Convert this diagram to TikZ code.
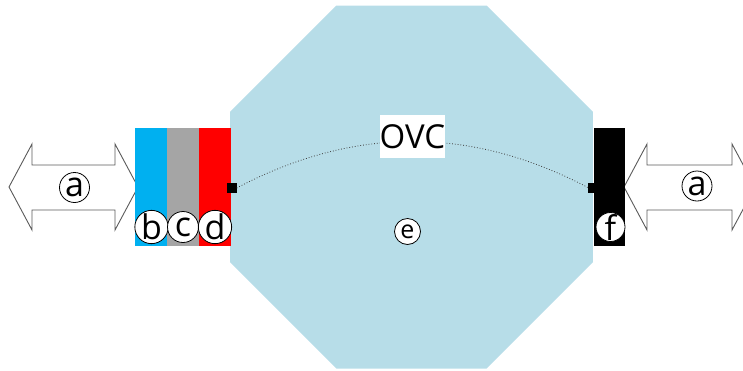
\documentclass[tikz,border=0pt]{standalone}
\usepackage{fontspec}
\setmainfont{Open Sans}
\usetikzlibrary{shapes.geometric}
\definecolor{octblue}{HTML}{B7DDE8}
\definecolor{layblue}{HTML}{00B0F0}
\definecolor{laygray}{HTML}{A5A5A5}
\definecolor{layred}{HTML}{FF0000}
\definecolor{arrline}{HTML}{5A5A5A}
\definecolor{dotline}{HTML}{404040}
\tikzset{
  layer/.style={rectangle, inner sep=0pt, minimum width=32bp, minimum height=118bp},
  tag/.style={circle, draw=black, line width=0.8bp, fill=white, inner sep=0pt, minimum size=30bp, font=\fontsize{34bp}{36bp}\selectfont},
  smalltag/.style={tag, minimum size=26bp, font=\fontsize{25bp}{27bp}\selectfont},
  port/.style={rectangle, fill=black, inner sep=0pt, minimum size=10bp},
  bigarrow/.style={draw=arrline, line width=0.9bp, fill=white, line join=miter},
}
\begin{document}
\begin{tikzpicture}[x=1bp,y=-1bp]
\useasboundingbox (0,0) rectangle (743,370);
% octagon
\node (oct) [regular polygon, regular polygon sides=8, fill=octblue, inner sep=0pt, minimum size=392.9bp] at (411.5,187) {};
% double arrows
\path[bigarrow] (9,187) -- (32,144) -- (32,165) -- (115,165) -- (115,144) -- (138,187)
  -- (115,230) -- (115,210) -- (32,210) -- (32,230) -- cycle;
\path[bigarrow] (624,187) -- (647,144) -- (647,165) -- (732,165) -- (732,144) -- (755,187)
  -- (732,230) -- (732,210) -- (647,210) -- (647,230) -- cycle;
\node (a1) [tag] at (74.5,187.5) {a};
\node (a2) [tag] at (697,186) {a};
% layers
\node (lb) [layer, fill=layblue] at (151,187) {};
\node (lc) [layer, fill=laygray] at (183,187) {};
\node (ld) [layer, fill=layred] at (215,187) {};
\node (lf) [layer, fill=black, minimum width=31bp] at (609.5,187) {};
% ports and the curve
\node (p1) [port] at (231.5,188) {};
\node (p2) [port] at (593,187.5) {};
\draw[dotline, line width=0.8bp, dotted] (p1.east) .. controls (354,126) and (471,126) .. (p2.west);
\node (ovc) [fill=white, inner sep=0pt, minimum width=63bp, minimum height=43bp, font=\fontsize{33bp}{35bp}\selectfont] at (412.5,136.5) {OVC};
% tags
\node (tb) [tag, minimum size=31bp] at (151.5,227) {b};
\node (tc) [tag, minimum size=31bp] at (183,227) {c};
\node (td) [tag, minimum size=31bp] at (215,227) {d};
\node (tf) [tag, minimum size=29bp] at (610.5,227) {f};
\node (te) [smalltag] at (407.5,231.5) {e};
\end{tikzpicture}
\end{document}
